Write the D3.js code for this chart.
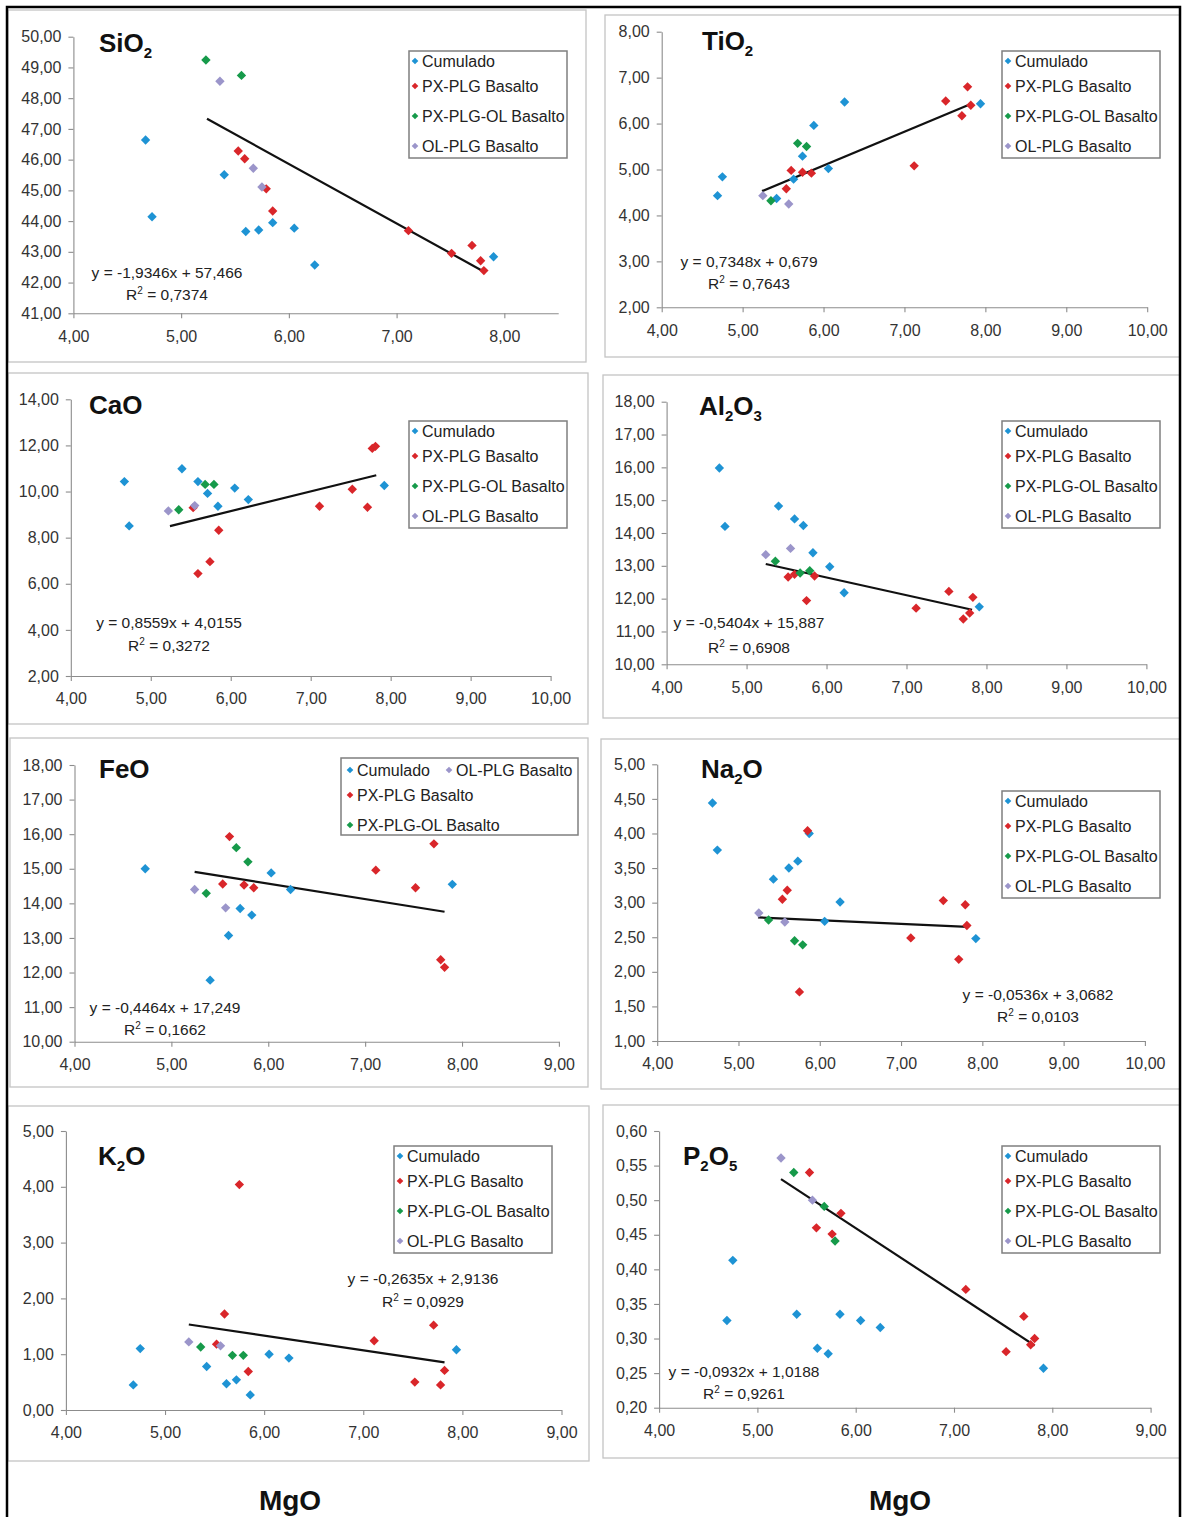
<!DOCTYPE html>
<html>
<head>
<meta charset="utf-8">
<script src="https://cdn.jsdelivr.net/npm/d3@7"></script>
<style>
  body { margin: 0; background: #fff; }
  svg { display: block; font-family: "Liberation Sans", Arial, sans-serif; }
</style>
</head>
<body>
<svg id="chart" width="1182" height="1517"></svg>
<script>
// series
const seriesNames = ['Cumulado', 'PX-PLG Basalto', 'PX-PLG-OL Basalto', 'OL-PLG Basalto']
const seriesColors = ['#1e93d4', '#d9262a', '#169a4a', '#9b95ca']

// SiO2 vs MgO
const sio2Cum = [[4.67, 46.64], [4.73, 44.14], [5.40, 45.51], [5.60, 43.66], [5.72, 43.71], [5.85, 43.95], [6.05, 43.77], [6.24, 42.57], [7.90, 42.84]]
const sio2Px = [[5.53, 46.28], [5.59, 46.03], [5.79, 45.05], [5.85, 44.33], [7.11, 43.69], [7.51, 42.95], [7.70, 43.21], [7.78, 42.71], [7.81, 42.39]]
const sio2PxOl = [[5.23, 49.24], [5.56, 48.74]]
const sio2Ol = [[5.36, 48.55], [5.67, 45.72], [5.75, 45.11]]

// TiO2
const tio2Cum = [[4.69, 4.43], [4.75, 4.84], [5.42, 4.37], [5.63, 4.79], [5.74, 5.29], [5.88, 5.96], [6.06, 5.02], [6.26, 6.47], [7.94, 6.43]]
const tio2Px = [[5.54, 4.58], [5.60, 4.98], [5.74, 4.94], [5.85, 4.92], [7.12, 5.08], [7.51, 6.49], [7.71, 6.17], [7.78, 6.80], [7.82, 6.40]]
const tio2PxOl = [[5.35, 4.32], [5.68, 5.57], [5.79, 5.50]]
const tio2Ol = [[5.25, 4.43], [5.57, 4.25]]

// CaO
const caoCum = [[4.67, 10.43], [4.73, 8.51], [5.39, 10.99], [5.59, 10.43], [5.71, 9.92], [5.84, 9.36], [6.05, 10.15], [6.22, 9.65], [7.92, 10.26]]
const caoPx = [[5.53, 9.30], [5.59, 6.44], [5.74, 6.96], [5.85, 8.32], [7.11, 9.36], [7.52, 10.10], [7.71, 9.32], [7.77, 11.87], [7.81, 11.96]]
const caoPxOl = [[5.35, 9.21], [5.68, 10.31], [5.79, 10.31]]
const caoOl = [[5.22, 9.16], [5.55, 9.39]]

// Al2O3
const al2o3Cum = [[4.66, 15.98], [4.73, 14.20], [5.40, 14.82], [5.60, 14.43], [5.71, 14.23], [5.83, 13.40], [6.04, 12.97], [6.22, 12.18], [7.91, 11.75]]
const al2o3Px = [[5.52, 12.66], [5.60, 12.74], [5.75, 11.94], [5.85, 12.69], [7.12, 11.71], [7.53, 12.22], [7.71, 11.38], [7.79, 11.56], [7.83, 12.04]]
const al2o3PxOl = [[5.36, 13.14], [5.67, 12.78], [5.79, 12.85]]
const al2o3Ol = [[5.24, 13.34], [5.55, 13.53]]

// FeO
const feoCum = [[4.73, 15.00], [5.40, 11.78], [5.59, 13.07], [5.71, 13.85], [5.83, 13.66], [6.03, 14.88], [6.23, 14.40], [7.90, 14.55]]
const feoPx = [[5.53, 14.56], [5.60, 15.93], [5.75, 14.53], [5.85, 14.45], [7.11, 14.96], [7.52, 14.45], [7.71, 15.72], [7.78, 12.37], [7.82, 12.15]]
const feoPxOl = [[5.36, 14.29], [5.67, 15.61], [5.79, 15.20]]
const feoOl = [[5.24, 14.40], [5.56, 13.87]]

// Na2O
const na2oCum = [[4.68, 4.44], [4.74, 3.76], [5.43, 3.34], [5.62, 3.50], [5.73, 3.60], [5.87, 4.00], [6.06, 2.73], [6.25, 3.01], [7.92, 2.48]]
const na2oPx = [[5.54, 3.05], [5.60, 3.18], [5.75, 1.71], [5.85, 4.04], [7.12, 2.49], [7.52, 3.03], [7.71, 2.18], [7.79, 2.97], [7.81, 2.67]]
const na2oPxOl = [[5.37, 2.75], [5.69, 2.45], [5.79, 2.39]]
const na2oOl = [[5.25, 2.85], [5.57, 2.72]]

// K2O
const k2oCum = [[4.68, 0.45], [4.75, 1.10], [5.42, 0.78], [5.62, 0.47], [5.72, 0.54], [5.86, 0.27], [6.05, 1.00], [6.25, 0.93], [7.94, 1.08]]
const k2oPx = [[5.52, 1.18], [5.60, 1.72], [5.75, 4.04], [5.84, 0.69], [7.11, 1.24], [7.52, 0.50], [7.71, 1.52], [7.78, 0.45], [7.82, 0.71]]
const k2oPxOl = [[5.36, 1.13], [5.68, 0.98], [5.79, 0.98]]
const k2oOl = [[5.24, 1.22], [5.56, 1.15]]

// P2O5
const p2o5Cum = [[4.69, 0.326], [4.75, 0.413], [5.40, 0.335], [5.61, 0.286], [5.72, 0.278], [5.84, 0.335], [6.05, 0.326], [6.25, 0.316], [7.91, 0.257]]
const p2o5Px = [[5.53, 0.540], [5.60, 0.460], [5.76, 0.451], [5.85, 0.481], [7.12, 0.371], [7.53, 0.281], [7.71, 0.332], [7.78, 0.291], [7.82, 0.300]]
const p2o5PxOl = [[5.37, 0.540], [5.68, 0.491], [5.79, 0.441]]
const p2o5Ol = [[5.24, 0.561], [5.56, 0.500]]

// trend lines (linear fit shown on each chart)
const oxides = ['SiO2', 'TiO2', 'CaO', 'Al2O3', 'FeO', 'Na2O', 'K2O', 'P2O5']
const slopes = [-1.9346, 0.7348, 0.8559, -0.5404, -0.4464, -0.0536, -0.2635, -0.0932]
const intercepts = [57.466, 0.679, 4.0155, 15.887, 17.249, 3.0682, 2.9136, 1.0188]
const r2Values = [0.7374, 0.7643, 0.3272, 0.6908, 0.1662, 0.0103, 0.0929, 0.9261]
const trendRange = [5.24, 7.82]

// axis ranges: [min, max, step]
const xRanges = [[4, 8.5, 1], [4, 10, 1], [4, 10, 1], [4, 10, 1], [4, 9, 1], [4, 10, 1], [4, 9, 1], [4, 9, 1]]
const yRanges = [[41, 50, 1], [2, 8, 1], [2, 14, 2], [10, 18, 1], [10, 18, 1], [1, 5, 0.5], [0, 5, 1], [0.2, 0.6, 0.05]]
const xLabel = 'MgO'

const panelSeries = [
  [sio2Cum, sio2Px, sio2PxOl, sio2Ol],
  [tio2Cum, tio2Px, tio2PxOl, tio2Ol],
  [caoCum, caoPx, caoPxOl, caoOl],
  [al2o3Cum, al2o3Px, al2o3PxOl, al2o3Ol],
  [feoCum, feoPx, feoPxOl, feoOl],
  [na2oCum, na2oPx, na2oPxOl, na2oOl],
  [k2oCum, k2oPx, k2oPxOl, k2oOl],
  [p2o5Cum, p2o5Px, p2o5PxOl, p2o5Ol]
]

// page layout of each panel
// box: chart frame, plot: [left, right, top, bottom], title: [x, baseline]
// legend: [x, y], eq: [centre x, baseline eq, baseline R2]
const layouts = [
  { box: [8, 10, 586, 362], plot: [73.4, 558.2, 36.7, 313.3], title: [99, 52], legend: [409, 51], eq: [167, 278, 300] },
  { box: [605, 15, 1180, 357], plot: [661.7, 1147.2, 31.7, 307.3], title: [702, 50], legend: [1002, 51], eq: [749, 267, 289] },
  { box: [8, 373, 588, 724], plot: [70.8, 550.6, 399.3, 676], title: [89, 414], legend: [409, 421], eq: [169, 628, 651] },
  { box: [603, 375, 1180, 718], plot: [666.6, 1146.4, 401.7, 664.3], title: [699, 415], legend: [1002, 421], eq: [749, 628, 653] },
  { box: [10, 738, 588, 1087], plot: [74.5, 558.9, 765, 1041.7], title: [99, 778], legend: [341, 758], wide: true, eq: [165, 1013, 1035] },
  { box: [601, 739, 1180, 1089], plot: [657.2, 1144.9, 764.3, 1041], title: [701, 778], legend: [1002, 791], eq: [1038, 1000, 1022] },
  { box: [8, 1106, 589, 1461], plot: [65.9, 561.5, 1131, 1410], title: [98, 1165], legend: [394, 1146], eq: [423, 1284, 1307] },
  { box: [603, 1105, 1180, 1458], plot: [659.1, 1150.6, 1131, 1407.7], title: [683, 1165], legend: [1002, 1146], eq: [744, 1377, 1399] }
]

const svg = d3.select('#chart')
const comma = v => String(v).replace('.', ',')
const fmt2 = v => d3.format('.2f')(v).replace('.', ',')
const ticksFor = r => d3.range(r[0], r[1] + r[2] / 2, r[2]).filter(v => v <= r[1] + 1e-9)
const diamond = size => d3.symbol(d3.symbolSquare, size)()

function drawFormula (text, str) {
  // digits become subscripts
  str.split(/(\d+)/).filter(s => s.length).forEach((part, i, arr) => {
    const isSub = /^\d+$/.test(part)
    const prevSub = i > 0 && /^\d+$/.test(arr[i - 1])
    text.append('tspan')
      .attr('font-size', isSub ? 15 : null)
      .attr('dy', isSub ? 6 : (prevSub ? -6 : 0))
      .text(part)
  })
}

function drawLegend (g, lay) {
  const [lx, ly] = lay.legend
  let w = 158
  let h = 107
  let items = [[6, 10], [6, 35], [6, 65], [6, 95]]
  if (lay.wide) {
    w = 237
    h = 77
    items = [[9, 12], [9, 37], [9, 67], [108, 12]]
  }
  g.append('rect')
    .attr('x', lx).attr('y', ly)
    .attr('width', w).attr('height', h)
    .attr('fill', '#fff')
    .attr('stroke', '#7f7f7f')
    .attr('stroke-width', 1.5)

  items.forEach((p, i) => {
    g.append('path')
      .attr('d', diamond(22))
      .attr('transform', `translate(${lx + p[0]},${ly + p[1]}) rotate(45)`)
      .attr('fill', seriesColors[i])
    g.append('text')
      .attr('x', lx + p[0] + 7)
      .attr('y', ly + p[1])
      .attr('dy', '0.36em')
      .attr('font-size', 16)
      .attr('fill', '#222')
      .text(seriesNames[i])
  })
}

layouts.forEach((lay, k) => {
  const g = svg.append('g').attr('class', 'panel')
  const [bx0, by0, bx1, by1] = lay.box
  const [pl, pr, pt, pb] = lay.plot

  g.append('rect')
    .attr('x', bx0).attr('y', by0)
    .attr('width', bx1 - bx0).attr('height', by1 - by0)
    .attr('fill', '#fff')
    .attr('stroke', '#c4c4c4')
    .attr('stroke-width', 1.3)

  const xr = xRanges[k]
  const yr = yRanges[k]
  const x = d3.scaleLinear().domain([xr[0], xr[1]]).range([pl, pr])
  const y = d3.scaleLinear().domain([yr[0], yr[1]]).range([pb, pt])

  const xAxis = g.append('g')
    .attr('transform', `translate(0,${pb})`)
    .call(d3.axisBottom(x)
      .tickValues(ticksFor(xr).filter(v => Number.isInteger(v)))
      .tickFormat(fmt2)
      .tickSize(5)
      .tickSizeOuter(0)
      .tickPadding(12))
  const yAxis = g.append('g')
    .attr('transform', `translate(${pl},0)`)
    .call(d3.axisLeft(y)
      .tickValues(ticksFor(yr))
      .tickFormat(fmt2)
      .tickSize(5)
      .tickSizeOuter(0)
      .tickPadding(7))

  ;[xAxis, yAxis].forEach(a => {
    a.selectAll('path, line').attr('stroke', '#8c8c8c').attr('stroke-width', 1.1)
    a.selectAll('text')
      .attr('font-size', 16)
      .attr('fill', '#333')
      .attr('font-family', '"Liberation Sans", Arial, sans-serif')
  })

  // title
  const title = g.append('text')
    .attr('x', lay.title[0])
    .attr('y', lay.title[1])
    .attr('font-size', 26)
    .attr('font-weight', 'bold')
    .attr('fill', '#111')
  drawFormula(title, oxides[k])

  // trend line
  const m = slopes[k]
  const b = intercepts[k]
  g.append('path')
    .datum(trendRange)
    .attr('d', d3.line().x(d => x(d)).y(d => y(m * d + b)))
    .attr('stroke', '#111')
    .attr('stroke-width', 2.2)
    .attr('fill', 'none')

  // points
  panelSeries[k].forEach((pts, i) => {
    g.append('g')
      .selectAll('path')
      .data(pts)
      .join('path')
      .attr('d', diamond(44))
      .attr('transform', d => `translate(${x(d[0])},${y(d[1])}) rotate(45)`)
      .attr('fill', seriesColors[i])
  })

  // equation and R2
  const [ex, ey1, ey2] = lay.eq
  g.append('text')
    .attr('x', ex).attr('y', ey1)
    .attr('text-anchor', 'middle')
    .attr('font-size', 15.5)
    .attr('fill', '#222')
    .text(`y = ${comma(m)}x + ${comma(b)}`)
  const r2 = g.append('text')
    .attr('x', ex).attr('y', ey2)
    .attr('text-anchor', 'middle')
    .attr('font-size', 15.5)
    .attr('fill', '#222')
  r2.append('tspan').text('R')
  r2.append('tspan').attr('font-size', 10).attr('dy', -6).text('2')
  r2.append('tspan').attr('dy', 6).text(` = ${comma(r2Values[k])}`)

  drawLegend(g, lay)
})

// shared x label
;[290, 900].forEach(cx => {
  svg.append('text')
    .attr('x', cx)
    .attr('y', 1510)
    .attr('text-anchor', 'middle')
    .attr('font-size', 28)
    .attr('font-weight', 'bold')
    .attr('fill', '#111')
    .text(xLabel)
})

// outer frame
svg.append('path')
  .attr('d', 'M7,1517V7H1180V1517')
  .attr('fill', 'none')
  .attr('stroke', '#000')
  .attr('stroke-width', 2.5)
</script>
</body>
</html>
